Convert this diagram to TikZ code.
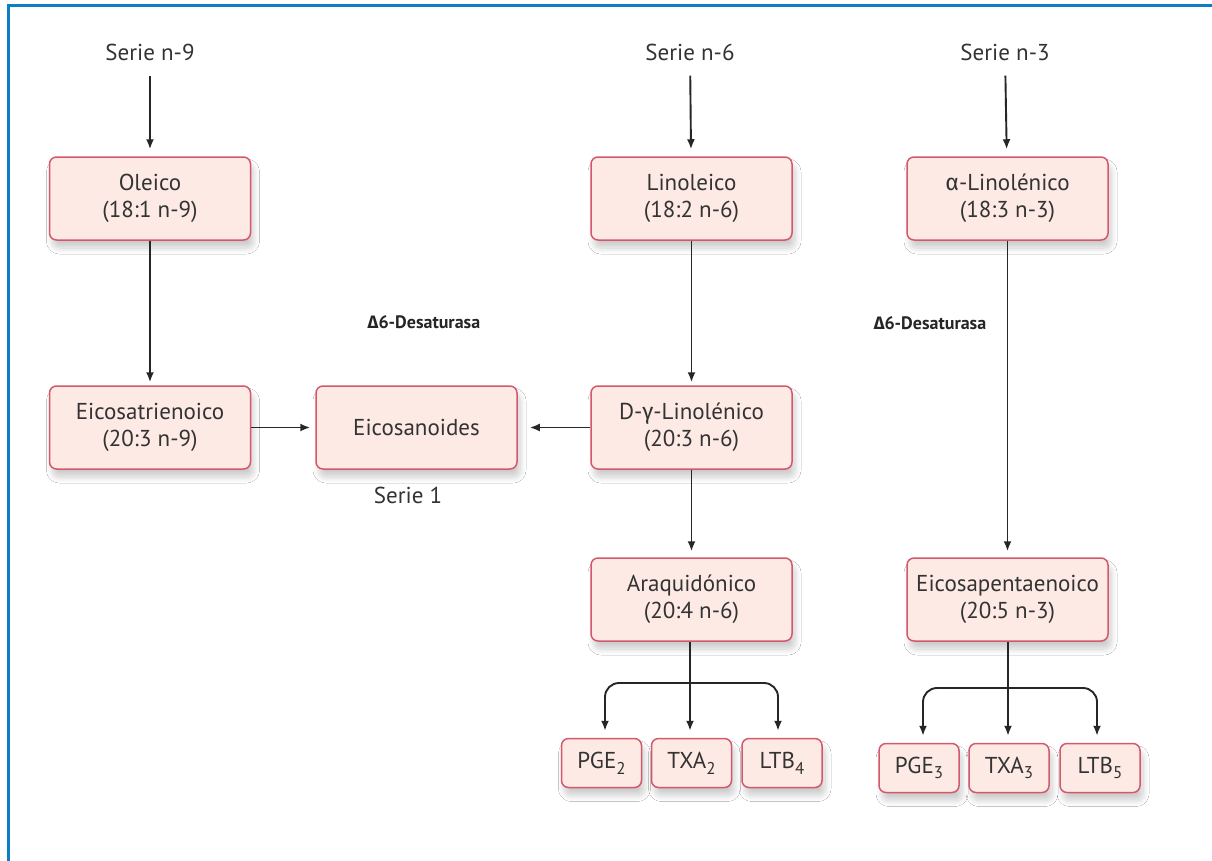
\documentclass[tikz,border=0pt]{standalone}
\usepackage{fontspec}
\setmainfont{PT Sans}
\newfontfamily\grk{Fira Sans}
\usetikzlibrary{arrows.meta,shadows.blur,calc}

\definecolor{boxfill}{HTML}{FDEAE4}
\definecolor{boxline}{HTML}{D4586C}
\definecolor{frameblue}{HTML}{0C7EC3}
\definecolor{ink}{HTML}{333333}

\newcommand\lowsub[1]{\raisebox{-0.5ex}{\fontsize{17}{17}\selectfont #1}}

\tikzset{
  acid/.style={draw=boxline, line width=1.5pt, fill=boxfill, rounded corners=7pt,
    minimum width=201pt, minimum height=83pt, align=center, text=ink,
    font=\fontsize{23}{27}\selectfont,
    blur shadow={shadow xshift=3pt, shadow yshift=-8pt, shadow blur radius=6pt,
      shadow blur steps=10, shadow opacity=20}},
  product/.style={acid, minimum width=80pt, minimum height=49pt},
  serie/.style={text=ink, inner sep=0pt, font=\fontsize{23}{26}\selectfont},
  enzyme/.style={text=black!85, inner sep=0pt, font=\fontsize{18}{20}\selectfont\bfseries},
  arr/.style={-{Latex[length=10pt,width=8pt]}, line width=1.9pt, draw=black!85},
  frame/.style={draw=frameblue, line width=3pt}
}

\begin{document}
\begin{tikzpicture}[x=1pt,y=-1pt]
\useasboundingbox (0,0) rectangle (1212,860);
\fill[white] (0,0) rectangle (1212,860);
\draw[frame] (8.5,862) -- (8.5,5.5) -- (1214,5.5);

% series headings
\node[serie] (s9) at (150,52) {Serie n-9};
\node[serie] (s6) at (690,52) {Serie n-6};
\node[serie] (s3) at (1005,52) {Serie n-3};

% fatty acids
\node[acid] (ole)    at (150,198.5)   {Oleico\\(18:1 n-9)};
\node[acid] (eictri) at (150,427.5)   {Eicosatrienoico\\(20:3 n-9)};
\node[acid] (eicos)  at (416.5,427.5) {Eicosanoides};
\node[acid] (lino)   at (691.5,198.5) {Linoleico\\(18:2 n-6)};
\node[acid] (dgl)    at (691.5,427.5) {D-{\grk γ}-Linolénico\\(20:3 n-6)};
\node[acid] (ara)    at (691.5,599.5) {Araquidónico\\(20:4 n-6)};
\node[acid] (alin)   at (1007.5,198.5) {{\grk α}-Linolénico\\(18:3 n-3)};
\node[acid] (epa)    at (1007.5,599.5) {Eicosapentaenoico\\(20:5 n-3)};

% eicosanoid products
\node[product] (pge2) at (601.5,763) {PGE\lowsub{2}};
\node[product] (txa2) at (691.5,763) {TXA\lowsub{2}};
\node[product] (ltb4) at (782,763)   {LTB\lowsub{4}};
\node[product] (pge3) at (919,768)   {PGE\lowsub{3}};
\node[product] (txa3) at (1009,768)  {TXA\lowsub{3}};
\node[product] (ltb5) at (1100,768)  {LTB\lowsub{5}};

% labels
\node[enzyme] (d1) at (424,322) {{\grk Δ}6-Desaturasa};
\node[enzyme] (d2) at (930,323) {{\grk Δ}6-Desaturasa};
\node[serie] (s1) at (408,495) {Serie 1};

% main pathway arrows
\draw[arr, shorten <=15pt, shorten >=7pt] (s9) -- (ole);
\draw[arr, shorten <=15pt, shorten >=7pt] (s6) -- (lino);
\draw[arr, shorten <=15pt, shorten >=7pt] (s3) -- (alin);
\draw[arr, shorten >=3pt] (ole) -- (eictri);
\draw[arr, shorten >=3pt] (lino) -- (dgl);
\draw[arr, shorten >=6pt] (dgl) -- (ara);
\draw[arr, shorten >=6pt] (alin) -- (epa);
\draw[arr, shorten >=5pt] (eictri) -- (eicos);
\draw[arr, shorten >=12pt] (dgl) -- (eicos);

% branching to products, n-6
\coordinate (j2) at (690,683);
\draw[arr, shorten >=7pt] (ara.south -| j2) -- (txa2.north -| j2);
\draw[arr, rounded corners=14pt, shorten >=7pt] (j2) -| ($(pge2.north)+(3.5,0)$);
\draw[arr, rounded corners=14pt, shorten >=7pt] (j2) -| ($(ltb4.north)+(-4,0)$);

% branching to products, n-3
\coordinate (j3) at (1008,688);
\draw[arr, shorten >=7pt] (epa.south -| j3) -- (txa3.north -| j3);
\draw[arr, rounded corners=14pt, shorten >=7pt] (j3) -| ($(pge3.north)+(4,0)$);
\draw[arr, rounded corners=14pt, shorten >=7pt] (j3) -| ($(ltb5.north)+(-3,0)$);
\end{tikzpicture}
\end{document}
